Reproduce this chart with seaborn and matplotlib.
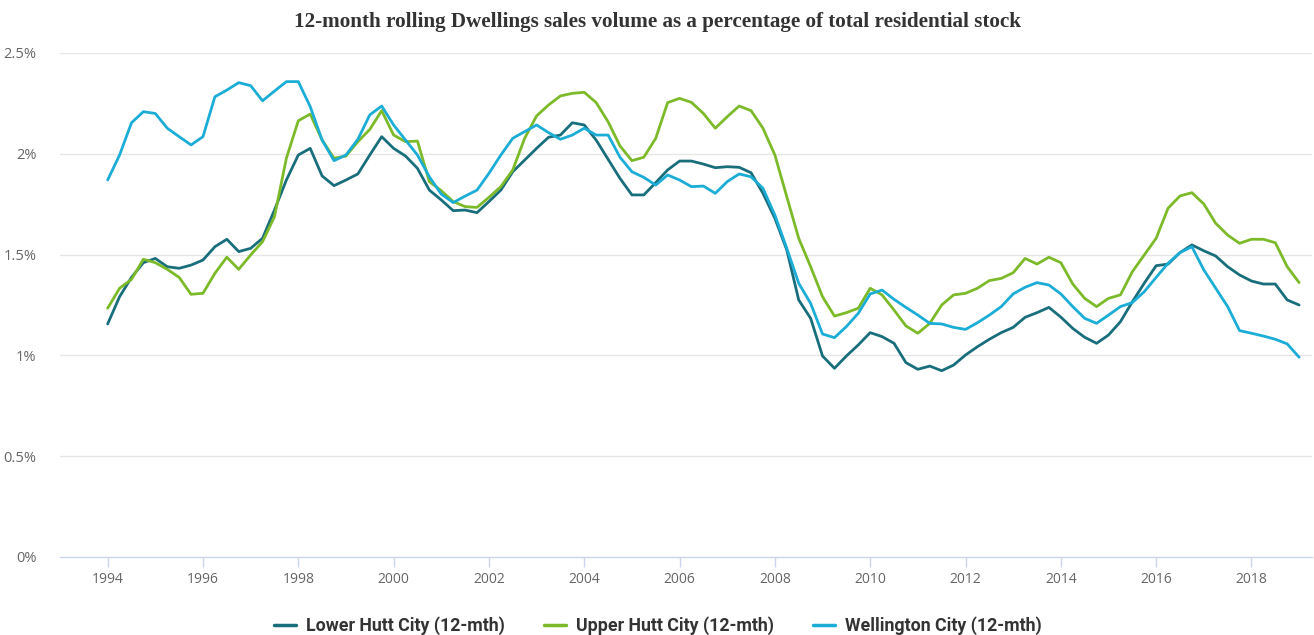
import numpy as np
import pandas as pd
import matplotlib
matplotlib.use('Agg')
import matplotlib.pyplot as plt
import seaborn as sns

# quarterly points, 1994 Q1 .. 2019 Q1 (values in %)
quarters = np.arange(1994, 2019.01, 0.25)

lower_hutt = [
    1.156, 1.291, 1.387, 1.46,
    1.481, 1.44, 1.432, 1.448,
    1.473, 1.539, 1.576, 1.515,
    1.531, 1.581, 1.721, 1.87,
    1.994, 2.027, 1.89, 1.842,
    1.87, 1.90, 1.994, 2.085,
    2.027, 1.989, 1.928, 1.82,
    1.771, 1.718, 1.721, 1.708,
    1.763, 1.82, 1.911, 1.969,
    2.027, 2.082, 2.093, 2.154,
    2.143, 2.068, 1.973, 1.878,
    1.796, 1.796, 1.857, 1.92,
    1.964, 1.964, 1.949, 1.931,
    1.936, 1.933, 1.906, 1.804,
    1.68, 1.523, 1.275, 1.184,
    0.997, 0.936, 0.997, 1.052,
    1.113, 1.093, 1.06, 0.964,
    0.931, 0.947, 0.924, 0.952,
    1.002, 1.043, 1.08, 1.113,
    1.139, 1.189, 1.212, 1.238,
    1.19, 1.134, 1.09, 1.06,
    1.101, 1.167, 1.266, 1.358,
    1.445, 1.453, 1.51, 1.548,
    1.519, 1.493, 1.44, 1.399,
    1.369, 1.354, 1.354, 1.275,
    1.25,
]

upper_hutt = [
    1.234, 1.333, 1.377, 1.477,
    1.46, 1.427, 1.387, 1.303,
    1.308, 1.407, 1.487, 1.427,
    1.498, 1.564, 1.688, 1.978,
    2.164, 2.197, 2.068, 1.978,
    1.989, 2.06, 2.121, 2.214,
    2.093, 2.06, 2.063, 1.862,
    1.817, 1.763, 1.738, 1.734,
    1.784, 1.837, 1.92, 2.077,
    2.188, 2.242, 2.287, 2.30,
    2.305, 2.254, 2.159, 2.039,
    1.966, 1.983, 2.077, 2.254,
    2.275, 2.255, 2.20, 2.127,
    2.184, 2.237, 2.214, 2.127,
    1.994, 1.787, 1.581, 1.44,
    1.291, 1.195, 1.212, 1.234,
    1.333, 1.30, 1.225, 1.146,
    1.11, 1.159, 1.25, 1.30,
    1.308, 1.333, 1.371, 1.382,
    1.41, 1.481, 1.453, 1.487,
    1.46, 1.354, 1.283, 1.242,
    1.283, 1.30, 1.415, 1.498,
    1.581, 1.73, 1.791, 1.807,
    1.751, 1.655, 1.597, 1.556,
    1.576, 1.576, 1.559, 1.44,
    1.361,
]

wellington = [
    1.87, 1.994, 2.154, 2.209,
    2.20, 2.127, 2.085, 2.044,
    2.085, 2.283, 2.316, 2.353,
    2.338, 2.263, 2.311, 2.358,
    2.358, 2.234, 2.068, 1.966,
    1.994, 2.072, 2.193, 2.237,
    2.143, 2.068, 1.994, 1.886,
    1.80, 1.758, 1.79, 1.82,
    1.903, 1.994, 2.077, 2.11,
    2.143, 2.105, 2.072, 2.093,
    2.127, 2.093, 2.093, 1.983,
    1.911, 1.883, 1.845, 1.895,
    1.87, 1.837, 1.84, 1.804,
    1.862, 1.90, 1.886, 1.829,
    1.696, 1.531, 1.358, 1.258,
    1.106, 1.088, 1.143, 1.209,
    1.305, 1.324, 1.278, 1.238,
    1.20, 1.159, 1.156, 1.139,
    1.129, 1.162, 1.20, 1.242,
    1.305, 1.338, 1.361, 1.349,
    1.305, 1.242, 1.184, 1.159,
    1.20, 1.242, 1.262, 1.316,
    1.387, 1.457, 1.51, 1.539,
    1.424, 1.333, 1.242, 1.123,
    1.11, 1.096, 1.08, 1.057,
    0.991,
]

series_names = ['Lower Hutt City (12-mth)', 'Upper Hutt City (12-mth)', 'Wellington City (12-mth)']
colors = ['#196e7c', '#7cba2a', '#1badd6']
year_ticks = list(range(1994, 2019, 2))
pct_ticks = [0, 0.5, 1, 1.5, 2, 2.5]
pct_labels = ['0%', '0.5%', '1%', '1.5%', '2%', '2.5%']

df = pd.DataFrame({'quarter': quarters,
                   series_names[0]: lower_hutt,
                   series_names[1]: upper_hutt,
                   series_names[2]: wellington})
long = df.melt(id_vars='quarter', var_name='series', value_name='pct')

sns.set_theme(style='white')
plt.rcParams['font.family'] = ['Open Sans', 'DejaVu Sans']

fig = plt.figure(figsize=(13.14, 6.35), dpi=100)
ax = fig.add_axes([60 / 1314, 78 / 635, 1252 / 1314, 504 / 635])

sns.lineplot(data=long, x='quarter', y='pct', hue='series', hue_order=series_names,
             palette=colors, linewidth=2, ax=ax, legend=False)

ax.set_xlim(1993.0, 2019.27)
ax.set_ylim(0, 2.5)
ax.set_xticks(year_ticks)
ax.set_xticklabels([str(y) for y in year_ticks])
ax.set_yticks(pct_ticks)
ax.set_yticklabels(pct_labels)
ax.set_xlabel('')
ax.set_ylabel('')

for y in pct_ticks[1:]:
    ax.axhline(y, color='#e6e6e6', linewidth=1, zorder=0)

for s in ['top', 'right', 'left']:
    ax.spines[s].set_visible(False)
ax.spines['bottom'].set_color('#ccd6eb')
ax.spines['bottom'].set_linewidth(1)

ax.tick_params(axis='x', which='major', bottom=True, length=7.5, width=1, color='#ccd6eb',
               labelsize=10, labelcolor='#666666', pad=3)
ax.tick_params(axis='y', left=False, labelsize=10.5, labelcolor='#666666', pad=11)

fig.text(0.5, 1 - 22 / 635, '12-month rolling Dwellings sales volume as a percentage of total residential stock',
         ha='center', va='center', fontsize=15.2, fontweight='bold', color='#333333',
         family=['Liberation Serif', 'DejaVu Serif'])

handles = [plt.Line2D([], [], color=c, linewidth=2.5) for c in colors]
fig.legend(handles, series_names, loc='center', bbox_to_anchor=(0.501, 1 - 626 / 635),
           ncol=3, frameon=False, handlelength=1.2, handletextpad=0.6, columnspacing=2.2,
           prop={'family': ['Roboto', 'DejaVu Sans'], 'weight': 'bold', 'size': 12.8},
           labelcolor='#333333')

fig.savefig('out.png', dpi=100)
